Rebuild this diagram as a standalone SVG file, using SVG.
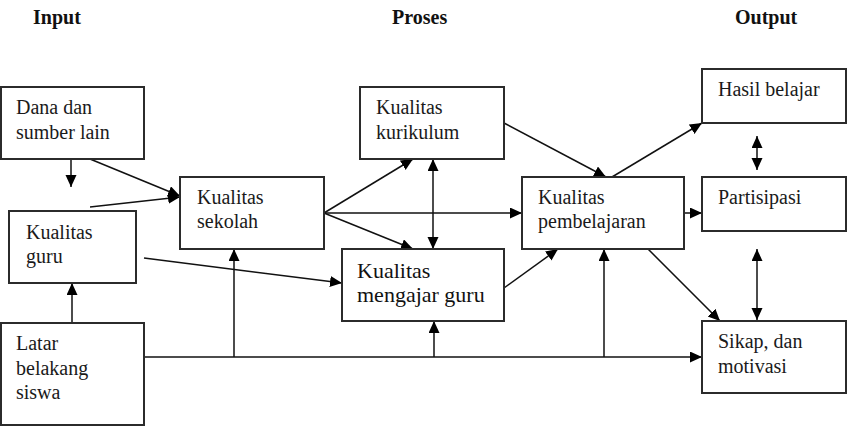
<svg xmlns="http://www.w3.org/2000/svg" width="852" height="426" viewBox="0 0 852 426">
<style>
  .box { fill: #ffffff; stroke: #2b2b2b; stroke-width: 2; }
  text { font-family: 'Liberation Serif', 'Times New Roman', serif; }
  .t { font-size: 20px; fill: #1a1a1a; }
  .t2 { font-size: 22px; fill: #111111; }
  .h { font-size: 20px; font-weight: bold; fill: #111111; }
  .c { fill: none; stroke: #111111; stroke-width: 1.5; }
  .a { marker-end: url(#arr); }
  .d { marker-start: url(#arr); marker-end: url(#arr); }
</style>
<defs>
  <marker id="arr" markerUnits="userSpaceOnUse" markerWidth="13" markerHeight="12" refX="12" refY="5.5" orient="auto-start-reverse">
    <path d="M0,0 L12,5.5 L0,11 Z" fill="#000000"/>
  </marker>
</defs>
<rect width="852" height="426" fill="#ffffff"/>

<g id="headers" font-family="Liberation Serif, serif">
  <text class="h" x="33" y="24">Input</text>
  <text class="h" x="392" y="24">Proses</text>
  <text class="h" x="735" y="24">Output</text>
</g>

<g id="connectors">
  <path class="c a" d="M71,159 L71,187"/>
  <path class="c a" d="M90,159 L180,196"/>
  <path class="c a" d="M90,207 L180,197"/>
  <path class="c a" d="M144,258 L342,283"/>
  <path class="c a" d="M72,323 L72,283"/>
  <path class="c a" d="M144,357 L702,357"/>
  <path class="c a" d="M234,357 L234,249"/>
  <path class="c a" d="M434,357 L434,321"/>
  <path class="c a" d="M604,357 L604,249"/>
  <path class="c a" d="M324,213 L413,159"/>
  <path class="c a" d="M324,213 L522,213"/>
  <path class="c a" d="M324,213 L413,249"/>
  <path class="c d" d="M433,159 L433,249"/>
  <path class="c a" d="M504,288 L558,249"/>
  <path class="c a" d="M504,123 L606,177"/>
  <path class="c a" d="M612,177 L702,123"/>
  <path class="c a" d="M684,213 L702,213"/>
  <path class="c d" d="M757,136 L757,170"/>
  <path class="c d" d="M757,249 L757,320"/>
  <path class="c a" d="M648,249 L720,321"/>
</g>

<g id="dana">
  <rect class="box" x="1" y="87" width="143" height="72"/>
  <text class="t" x="16" y="114">Dana dan</text>
  <text class="t" x="16" y="139">sumber lain</text>
</g>
<g id="kualitas-guru">
  <rect class="box" x="9" y="211" width="127" height="72"/>
  <text class="t" x="26" y="239">Kualitas</text>
  <text class="t" x="26" y="263">guru</text>
</g>
<g id="latar">
  <rect class="box" x="1" y="323" width="143" height="102"/>
  <text class="t" x="16" y="350">Latar</text>
  <text class="t" x="16" y="375">belakang</text>
  <text class="t" x="16" y="399">siswa</text>
</g>
<g id="kualitas-sekolah">
  <rect class="box" x="180" y="177" width="144" height="72"/>
  <text class="t" x="197" y="204">Kualitas</text>
  <text class="t" x="197" y="228">sekolah</text>
</g>
<g id="kualitas-kurikulum">
  <rect class="box" x="360" y="87" width="144" height="72"/>
  <text class="t" x="376" y="114">Kualitas</text>
  <text class="t" x="376" y="139">kurikulum</text>
</g>
<g id="kualitas-mengajar">
  <rect class="box" x="342" y="249" width="162" height="72"/>
  <text class="t2" x="357" y="278">Kualitas</text>
  <text class="t2" x="357" y="302">mengajar guru</text>
</g>
<g id="kualitas-pembelajaran">
  <rect class="box" x="522" y="177" width="162" height="72"/>
  <text class="t" x="538" y="204">Kualitas</text>
  <text class="t" x="538" y="228">pembelajaran</text>
</g>
<g id="hasil">
  <rect class="box" x="702" y="69" width="144" height="54"/>
  <text class="t" x="718" y="96">Hasil belajar</text>
</g>
<g id="partisipasi">
  <rect class="box" x="702" y="177" width="144" height="54"/>
  <text class="t" x="718" y="204">Partisipasi</text>
</g>
<g id="sikap">
  <rect class="box" x="702" y="321" width="144" height="72"/>
  <text class="t" x="718" y="348">Sikap, dan</text>
  <text class="t" x="718" y="373">motivasi</text>
</g>
</svg>
